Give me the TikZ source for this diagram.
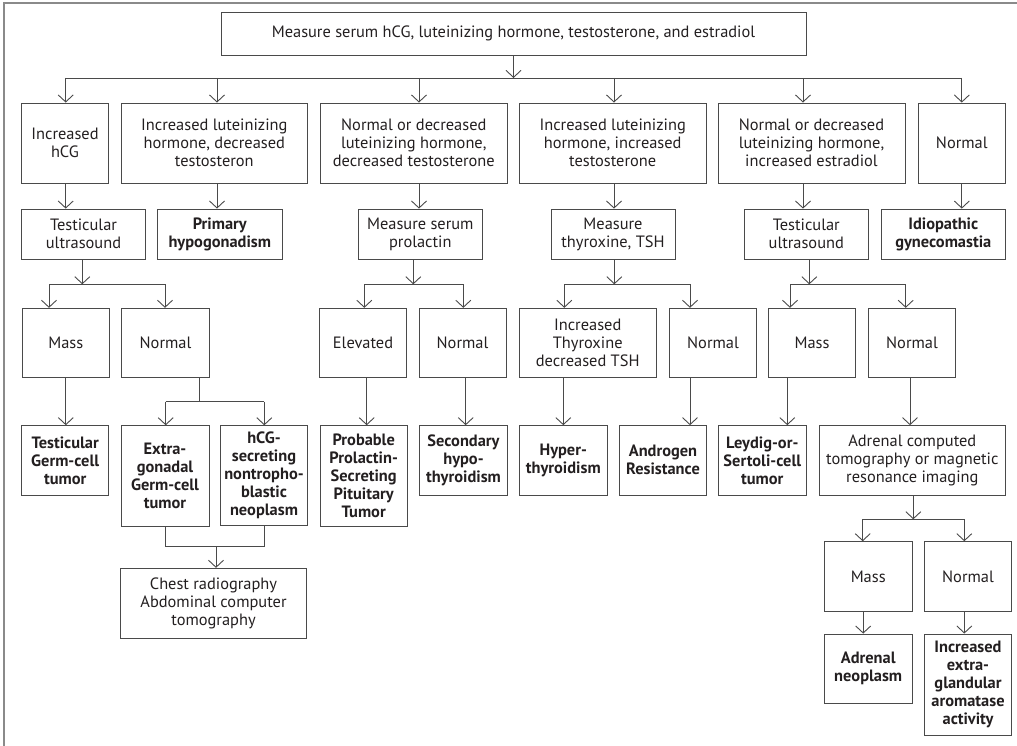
\documentclass[tikz,border=0pt]{standalone}
\usepackage{fontspec}
\setmainfont{PT Sans}
\usetikzlibrary{arrows.meta}
\definecolor{ink}{HTML}{231F20}
\definecolor{ln}{HTML}{4A4A4A}
\definecolor{frame}{HTML}{8A8A8A}
\begin{document}
\begin{tikzpicture}[x=1pt,y=-1pt,
  box/.style={draw=ln, line width=0.9pt, text=ink, align=center, inner sep=0.5pt,
              font=\fontsize{16.4}{18}\selectfont},
  bbox/.style={box, font=\fontsize{16.4}{18}\selectfont\bfseries},
  con/.style={draw=ln, line width=0.9pt},
  arr/.style={con, -{Straight Barb[length=7pt,width=15pt]}}]
\useasboundingbox (0,0) rectangle (1017,746);
\draw[frame, line width=1.6pt] (4,746) -- (4,3) -- (1017,3);

% top
\node[box, minimum width=585pt, minimum height=43pt] (top) at (513.5,33.5)
  {Measure serum hCG, luteinizing hormone, testosterone, and estradiol};

% level 1
\node[box, minimum width=86.6pt, minimum height=80pt] (hcg) at (65,143) {Increased\\hCG};
\node[box, minimum width=186.7pt, minimum height=80pt] (lhdt) at (214.3,143) {Increased luteinizing\\hormone, decreased\\testosteron};
\node[box, minimum width=187.7pt, minimum height=80pt] (nlhdt) at (413.8,143) {Normal or decreased\\luteinizing hormone,\\decreased testosterone};
\node[box, minimum width=186.7pt, minimum height=80pt] (lhit) at (612.7,143) {Increased luteinizing\\hormone, increased\\testosterone};
\node[box, minimum width=187pt, minimum height=80pt] (nlhe) at (811.5,143) {Normal or decreased\\luteinizing hormone,\\increased estradiol};
\node[box, minimum width=87.7pt, minimum height=80pt] (norm) at (961.8,143) {Normal};

% level 2
\node[box, minimum width=123.6pt, minimum height=50.3pt] (tus1) at (83.5,234.2) {Testicular\\ultrasound};
\node[bbox, minimum width=124.3pt, minimum height=50.3pt] (prim) at (219.8,234.2) {Primary\\hypogonadism};
\node[box, minimum width=124pt, minimum height=50.3pt] (prol) at (420.3,234.2) {Measure serum\\prolactin};
\node[box, minimum width=124pt, minimum height=50.3pt] (thyr) at (613,234.2) {Measure\\thyroxine, TSH};
\node[box, minimum width=124pt, minimum height=50.3pt] (tus2) at (806.3,234.2) {Testicular\\ultrasound};
\node[bbox, minimum width=123.3pt, minimum height=50.3pt] (idio) at (943.3,234.2) {Idiopathic\\gynecomastia};

% level 3
\node[box, minimum width=87pt, minimum height=69.4pt] (mass1) at (65.8,343) {Mass};
\node[box, minimum width=87.6pt, minimum height=69.4pt] (norm1) at (165.5,343) {Normal};
\node[box, minimum width=87.4pt, minimum height=69.4pt] (elev) at (363,343) {Elevated};
\node[box, minimum width=87pt, minimum height=69.4pt] (norm2) at (462.5,343) {Normal};
\node[box, minimum width=136.7pt, minimum height=69.4pt] (incthy) at (587.7,343) {Increased\\Thyroxine\\decreased TSH};
\node[box, minimum width=87.4pt, minimum height=69.4pt] (norm3) at (713,343) {Normal};
\node[box, minimum width=87.4pt, minimum height=69.4pt] (mass2) at (812,343) {Mass};
\node[box, minimum width=87.4pt, minimum height=69.4pt] (norm4) at (912,343) {Normal};

% level 4
\node[bbox, minimum width=87pt, minimum height=69.3pt] (tgct) at (65.2,460.3) {Testicular\\Germ-cell\\tumor};
\node[bbox, minimum width=88pt, minimum height=100.3pt] (egct) at (165,475.9) {Extra-\\gonadal\\Germ-cell\\tumor};
\node[bbox, minimum width=86.6pt, minimum height=99.3pt] (hcgs) at (264,475.4) {hCG-\\secreting\\nontropho-\\blastic\\neoplasm};
\node[bbox, minimum width=87.3pt, minimum height=101pt] (ppt) at (363.7,476.2) {Probable\\Prolactin-\\Secreting\\Pituitary\\Tumor};
\node[bbox, minimum width=87.6pt, minimum height=69.3pt] (shyp) at (463.5,460.3) {Secondary\\hypo-\\thyroidism};
\node[bbox, minimum width=88pt, minimum height=69.3pt] (hyper) at (563.3,460.3) {Hyper-\\thyroidism};
\node[bbox, minimum width=87.4pt, minimum height=69.3pt] (andro) at (663,460.3) {Androgen\\Resistance};
\node[bbox, minimum width=87.3pt, minimum height=69.3pt] (leydig) at (762.3,460.3) {Leydig-or-\\Sertoli-cell\\tumor};
\node[box, minimum width=186pt, minimum height=69.3pt] (adrct) at (912.3,460.3) {Adrenal computed\\tomography or magnetic\\resonance imaging};

% lower
\node[box, minimum width=186.4pt, minimum height=70pt] (chest) at (213.5,603.3) {Chest radiography\\Abdominal computer\\tomography};
\node[box, minimum width=87.7pt, minimum height=70pt] (mass3) at (868.2,576.7) {Mass};
\node[box, minimum width=87.4pt, minimum height=70pt] (norm5) at (968,576.7) {Normal};
\node[bbox, minimum width=87.7pt, minimum height=69.3pt] (adneo) at (868.2,668.7) {Adrenal\\neoplasm};
\node[bbox, minimum width=87.4pt, minimum height=101pt] (incex) at (968,684.5) {Increased\\extra-\\glandular\\aromatase\\activity};

% bars
\coordinate (b1) at (0,78);
\coordinate (b2) at (0,284.3);
\coordinate (b3) at (0,401.7);
\coordinate (b4) at (0,546.7);
\coordinate (b5) at (0,519.3);

% top -> level 1
\draw[arr] (top.south) -- (top.south |- b1);
\draw[con] ([xshift=0.7pt]hcg.north |- b1) -- (norm.north |- b1);
\foreach \n/\s in {hcg/0.7, lhdt/2.7, nlhdt/5.2, lhit/1.3, nlhe/-8.5, norm/0}
  \draw[arr] ([xshift=\s pt]\n.north |- b1) -- ([xshift=\s pt]\n.north);

% level 1 -> level 2
\foreach \a/\b/\s in {hcg/tus1/0.7, lhdt/prim/2.7, nlhdt/prol/5.2, lhit/thyr/1.3, nlhe/tus2/-8.5, norm/idio/0}
  \draw[arr] ([xshift=\s pt]\a.south) -- ([xshift=\s pt]\a.south |- \b.north);

% level 2 -> level 3
\foreach \p/\ps/\l/\ls/\r/\rs in {tus1/-1.2/mass1/-16.8/norm1/-0.5, prol/-7/elev/1.3/norm2/0.8, thyr/1.3/incthy/-23.4/norm3/-23, tus2/3/mass2/-22/norm4/-6.3}{
  \draw[arr] ([xshift=\ps pt]\p.south) -- ([xshift=\ps pt]\p.south |- b2);
  \draw[con] ([xshift=\ls pt]\l.north |- b2) -- ([xshift=\rs pt]\r.north |- b2);
  \draw[arr] ([xshift=\ls pt]\l.north |- b2) -- ([xshift=\ls pt]\l.north);
  \draw[arr] ([xshift=\rs pt]\r.north |- b2) -- ([xshift=\rs pt]\r.north);
}

% level 3 -> level 4
\foreach \a/\b/\s in {mass1/tgct/0, elev/ppt/3.7, norm2/shyp/3.2, incthy/hyper/-24.4, norm3/andro/-23, mass2/leydig/-24.7, norm4/adrct/-2}
  \draw[arr] ([xshift=\s pt]\a.south) -- ([xshift=\s pt]\a.south |- \b.north);
\draw[con] ([xshift=33.5pt]norm1.south) -- ([xshift=33.5pt]norm1.south |- b3);
\draw[con] ([xshift=0.7pt]egct.north |- b3) -- ([xshift=0.3pt]hcgs.north |- b3);
\draw[arr] ([xshift=0.7pt]egct.north |- b3) -- ([xshift=0.7pt]egct.north);
\draw[arr] ([xshift=0.3pt]hcgs.north |- b3) -- ([xshift=0.3pt]hcgs.north);

% -> chest
\draw[con] (egct.south) -- (egct.south |- b4) -- ([xshift=0.3pt]hcgs.north |- b4) -- ([xshift=0.3pt]hcgs.south);
\draw[arr] ([xshift=2.5pt]chest.north |- b4) -- ([xshift=2.5pt]chest.north);

% adrenal branch
\draw[arr] ([xshift=1pt]adrct.south) -- ([xshift=1pt]adrct.south |- b5);
\draw[con] ([xshift=-5.5pt]mass3.north |- b5) -- ([xshift=-3.7pt]norm5.north |- b5);
\draw[arr] ([xshift=-5.5pt]mass3.north |- b5) -- ([xshift=-5.5pt]mass3.north);
\draw[arr] ([xshift=-3.7pt]norm5.north |- b5) -- ([xshift=-3.7pt]norm5.north);
\draw[arr] ([xshift=-5pt]mass3.south) -- ([xshift=-5pt]mass3.south |- adneo.north);
\draw[arr] ([xshift=-3.7pt]norm5.south) -- ([xshift=-3.7pt]norm5.south |- incex.north);
\end{tikzpicture}
\end{document}
